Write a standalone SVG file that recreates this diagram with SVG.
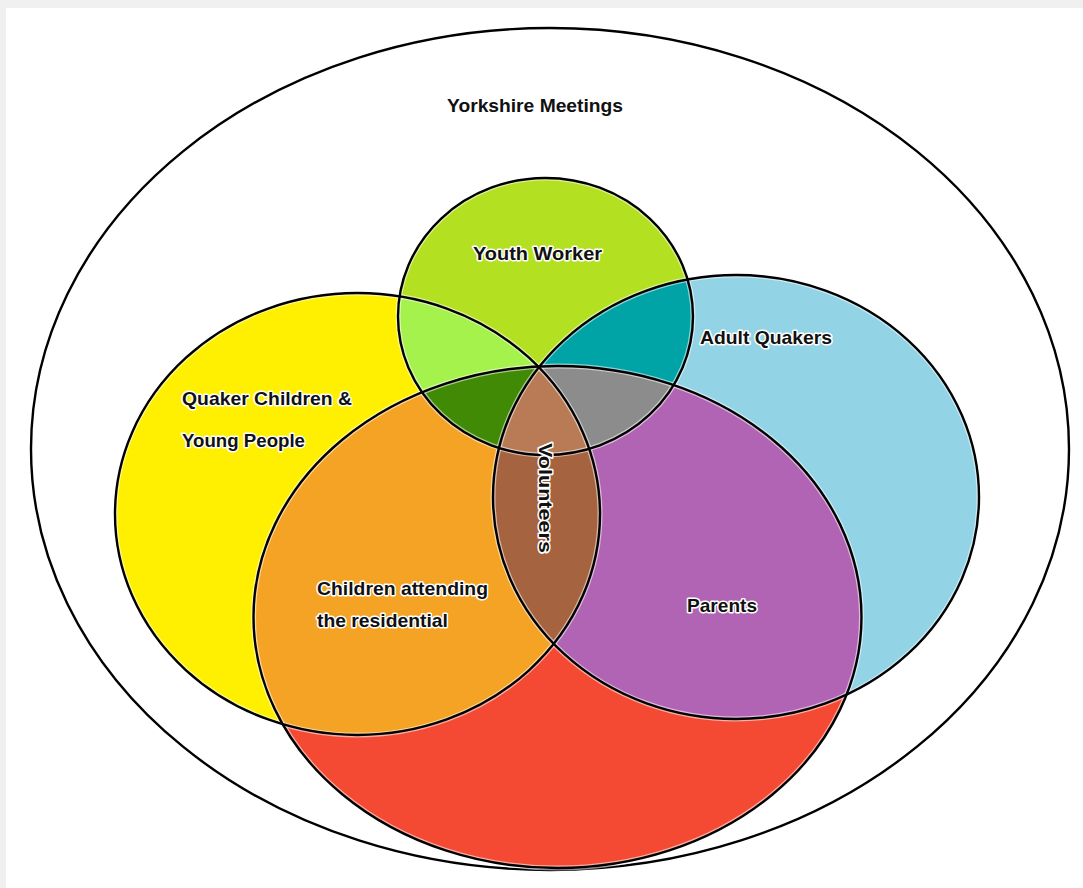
<svg xmlns="http://www.w3.org/2000/svg" width="1083" height="888" viewBox="0 0 1083 888">
<style>
.lbl{font-family:"Liberation Sans","DejaVu Sans",sans-serif;font-weight:bold;font-size:19px;fill:#111;stroke:#fff;stroke-width:3px;paint-order:stroke;stroke-linejoin:round}
.ring{fill:none;stroke:#000;stroke-width:2.4}
.fuzz{fill:none;stroke:#fff;stroke-width:5;stroke-opacity:0.55}
</style>
<defs>
<ellipse id="eYouth" cx="545.5" cy="316.5" rx="147.5" ry="138.5"/>
<ellipse id="eYellow" cx="357.5" cy="514" rx="242.5" ry="221"/>
<ellipse id="eBlue" cx="736" cy="497" rx="243" ry="222"/>
<ellipse id="eBig" cx="557.5" cy="617" rx="304" ry="251"/>
<clipPath id="cYouth"><use href="#eYouth"/></clipPath>
<clipPath id="cYellow"><use href="#eYellow"/></clipPath>
<clipPath id="cBlue"><use href="#eBlue"/></clipPath>
<clipPath id="cBig"><use href="#eBig"/></clipPath>
</defs>
<rect x="0" y="0" width="1083" height="888" fill="#f0f0f0"/>
<rect x="6" y="8" width="1077" height="880" fill="#ffffff"/>

<g id="yorkshire-meetings">
<ellipse cx="550" cy="449" rx="519" ry="421" class="ring"/>
<text class="lbl" x="447" y="112" textLength="176" lengthAdjust="spacingAndGlyphs">Yorkshire Meetings</text>
</g>

<g id="fills">
<use href="#eYellow" fill="#fef000"/>
<use href="#eBlue" fill="#93d3e6"/>
<use href="#eYouth" fill="#b3e020"/>
<g clip-path="url(#cYellow)"><use href="#eYouth" fill="#a6f24d"/></g>
<g clip-path="url(#cBlue)"><use href="#eYouth" fill="#00a3a6"/></g>
<use href="#eBig" fill="#f44a34"/>
<g clip-path="url(#cYellow)"><use href="#eBig" fill="#f4a324"/></g>
<g clip-path="url(#cBlue)"><use href="#eBig" fill="#b264b4"/></g>
<g clip-path="url(#cYellow)"><g clip-path="url(#cBlue)"><use href="#eBig" fill="#a6633f"/></g></g>
<g clip-path="url(#cYellow)"><g clip-path="url(#cBig)"><use href="#eYouth" fill="#418a05"/></g></g>
<g clip-path="url(#cBlue)"><g clip-path="url(#cBig)"><use href="#eYouth" fill="#8c8c8c"/></g></g>
<g clip-path="url(#cYellow)"><g clip-path="url(#cBlue)"><g clip-path="url(#cBig)"><use href="#eYouth" fill="#b97a56"/></g></g></g>
</g>

<g id="edges">
<use href="#eYouth" class="fuzz"/>
<use href="#eYellow" class="fuzz"/>
<use href="#eBlue" class="fuzz"/>
<use href="#eBig" class="fuzz"/>
</g>

<g id="youth-worker">
<use href="#eYouth" class="ring"/>
<text class="lbl" x="473" y="260" textLength="129" lengthAdjust="spacingAndGlyphs">Youth Worker</text>
</g>
<g id="quaker-children">
<use href="#eYellow" class="ring"/>
<text class="lbl" x="182" y="405" textLength="170" lengthAdjust="spacingAndGlyphs">Quaker Children &amp;</text>
<text class="lbl" x="182" y="447" textLength="123" lengthAdjust="spacingAndGlyphs">Young People</text>
</g>
<g id="adult-quakers">
<use href="#eBlue" class="ring"/>
<text class="lbl" x="700" y="344" textLength="132" lengthAdjust="spacingAndGlyphs">Adult Quakers</text>
</g>
<g id="children-residential">
<use href="#eBig" class="ring"/>
<text class="lbl" x="317" y="595" textLength="171" lengthAdjust="spacingAndGlyphs">Children attending</text>
<text class="lbl" x="317" y="627" textLength="131" lengthAdjust="spacingAndGlyphs">the residential</text>
</g>
<g id="parents">
<text class="lbl" x="687" y="612" textLength="70" lengthAdjust="spacingAndGlyphs">Parents</text>
</g>
<g id="volunteers">
<text class="lbl" transform="translate(539 443) rotate(90)" x="0" y="0" textLength="110" lengthAdjust="spacingAndGlyphs">Volunteers</text>
</g>
<g id="connectors"/>
</svg>
